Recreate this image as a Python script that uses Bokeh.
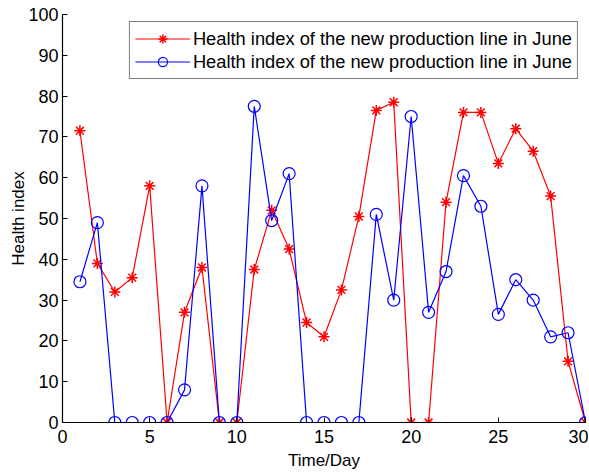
from bokeh.plotting import figure
from bokeh.models import FixedTicker, Range1d, Legend, LegendItem
from bokeh.embed import file_html
from bokeh.resources import INLINE

days = list(range(1, 31))
red_vals = [71.5, 39, 32, 35.5, 58, 0, 27, 38, 0, 0, 37.5, 52, 42.5, 24.5, 21,
            32.5, 50.5, 76.5, 78.5, 0, 0, 54, 76, 76, 63.5, 72, 66.5, 55.5, 15, 0]
blue_vals = [34.5, 49, 0, 0, 0, 0, 8, 58, 0, 0, 77.5, 49.5, 61, 0, 0,
             0, 0, 51, 30, 75, 27, 37, 60.5, 53, 26.5, 35, 30, 21, 22, 0]
x_ticks = [0, 5, 10, 15, 20, 25, 30]
y_ticks = [0, 10, 20, 30, 40, 50, 60, 70, 80, 90, 100]
legend_label = "Health index of the new production line in June"

FONT = "Liberation Sans"

p = figure(width=588, height=472, output_backend="svg", toolbar_location=None,
           x_range=Range1d(0, 30), y_range=Range1d(0, 100),
           min_border_left=62, min_border_right=3, min_border_top=14, min_border_bottom=50)
p.xgrid.visible = False
p.ygrid.visible = False
p.outline_line_color = None

p.xaxis.axis_label = "Time/Day"
p.yaxis.axis_label = "Health index"
p.xaxis.ticker = FixedTicker(ticks=x_ticks)
p.yaxis.ticker = FixedTicker(ticks=y_ticks)

for ax in [p.xaxis[0], p.yaxis[0]]:
    ax.major_tick_in = 5
    ax.major_tick_out = 0
    ax.minor_tick_line_color = None
    ax.major_label_text_font = FONT
    ax.major_label_text_font_size = "18px"
    ax.major_label_text_color = "black"
    ax.axis_label_text_font = FONT
    ax.axis_label_text_font_size = "17px"
    ax.axis_label_text_font_style = "normal"
    ax.axis_label_text_color = "black"
    ax.axis_line_color = "black"
    ax.axis_line_width = 1.2
    ax.major_tick_line_color = "black"
p.xaxis.axis_label_standoff = 5
p.yaxis.axis_label_standoff = -3
p.xaxis.major_label_standoff = 7
p.yaxis.major_label_standoff = 4

r_line = p.line(days, red_vals, line_color="red", line_width=1.2)
r_pts = p.scatter(days, red_vals, marker="asterisk", size=11, line_color="red", line_width=1.5)
b_line = p.line(days, blue_vals, line_color="blue", line_width=1.2)
b_pts = p.scatter(days, blue_vals, marker="circle", size=12, line_color="blue",
                  fill_color=None, line_width=1.2)

legend = Legend(items=[LegendItem(label=legend_label, renderers=[r_line, r_pts]),
                       LegendItem(label=legend_label, renderers=[b_line, b_pts])],
                location="top_right")
legend.label_text_font = FONT
legend.label_text_font_size = "18.3px"
legend.label_text_color = "black"
legend.border_line_color = "black"
legend.border_line_width = 1.5
legend.margin = 7
legend.padding = 5
legend.spacing = 0
legend.glyph_width = 55
legend.label_height = 23
legend.glyph_height = 23
legend.label_standoff = 3
legend.background_fill_alpha = 1
p.add_layout(legend, "center")

open("out.html", "w").write(file_html(p, INLINE))
